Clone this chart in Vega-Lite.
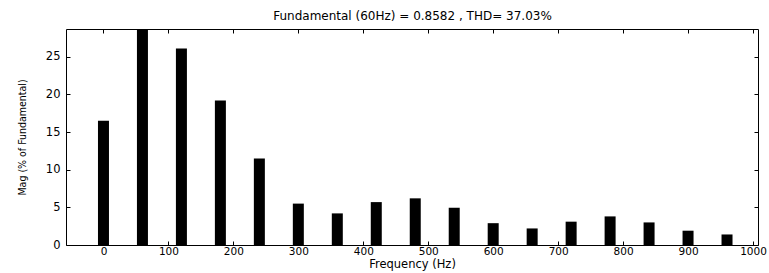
{
  "$schema": "https://vega.github.io/schema/vega-lite/v6.json",
  "width": 692,
  "height": 216,
  "autosize": {"type": "none"},
  "padding": {"left": 66, "top": 29, "right": 11, "bottom": 28},
  "background": "white",
  "config": {
    "view": {"stroke": "black", "strokeWidth": 1},
    "font": "DejaVu Sans",
    "axis": {"grid": false, "domain": false, "tickColor": "black", "labelColor": "black", "titleColor": "black", "labelFont": "DejaVu Sans", "labelFontSize": 11.5, "titleFont": "DejaVu Sans", "titleFontWeight": "normal", "tickSize": -4}
  },
  "data": {"values": [
    {"f": 0, "mag": 16.5},
    {"f": 60, "mag": 100},
    {"f": 120, "mag": 26.1},
    {"f": 180, "mag": 19.2},
    {"f": 240, "mag": 11.5},
    {"f": 300, "mag": 5.5},
    {"f": 360, "mag": 4.2},
    {"f": 420, "mag": 5.7},
    {"f": 480, "mag": 6.2},
    {"f": 540, "mag": 4.95},
    {"f": 600, "mag": 2.9},
    {"f": 660, "mag": 2.2},
    {"f": 720, "mag": 3.1},
    {"f": 780, "mag": 3.8},
    {"f": 840, "mag": 3.0},
    {"f": 900, "mag": 1.9},
    {"f": 960, "mag": 1.4}
  ]},
  "resolve": {"axis": {"x": "independent", "y": "independent"}},
  "layer": [
    {
      "mark": {"type": "bar", "color": "black", "width": 11, "clip": true},
      "encoding": {
        "x": {"field": "f", "type": "quantitative", "scale": {"domain": [-50, 1000], "nice": false, "zero": false},
          "axis": {"orient": "bottom", "values": [0,100,200,300,400,500,600,700,800,900,1000], "format": "d", "title": "Frequency (Hz)", "titleFontSize": 11.5, "labelFontSize": 10.5, "labelPadding": 5, "titlePadding": 2, "labelFlush": false, "labelOverlap": false}},
        "y": {"field": "mag", "type": "quantitative", "scale": {"domain": [0, 28.7], "nice": false},
          "axis": {"orient": "left", "values": [0,5,10,15,20,25], "title": "Mag (% of Fundamental)", "titleFont": "Liberation Sans Narrow, DejaVu Sans Condensed, Liberation Sans", "titleFontSize": 10.5, "labelPadding": 10, "titlePadding": 18}}
      }
    },
    {
      "mark": {"type": "bar", "opacity": 0, "width": 1},
      "encoding": {
        "x": {"field": "f", "type": "quantitative", "axis": {"orient": "top", "values": [0,100,200,300,400,500,600,700,800,900,1000], "labels": false, "title": "Fundamental (60Hz) = 0.8582 , THD= 37.03%", "titleFontSize": 12, "titlePadding": 6}},
        "y": {"field": "mag", "type": "quantitative", "axis": {"orient": "right", "values": [0,5,10,15,20,25], "labels": false, "title": null}}
      }
    }
  ]
}
